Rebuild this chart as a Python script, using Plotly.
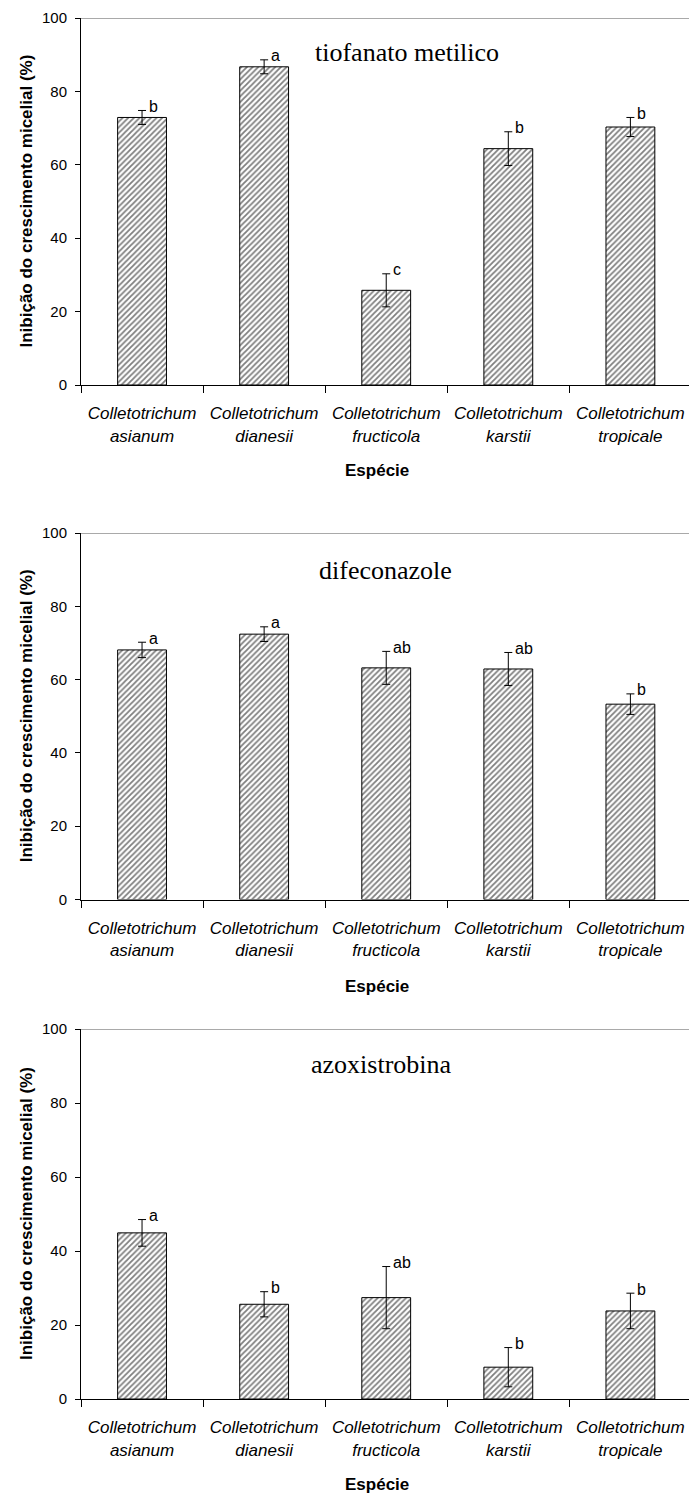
import plotly.graph_objects as go

W, H = 689, 1495

genus = "Colletotrichum"
species = ["asianum", "dianesii", "fructicola", "karstii", "tropicale"]
fungicides = ["tiofanato metilico", "difeconazole", "azoxistrobina"]

tiof_mean = [72.9, 86.7, 25.8, 64.4, 70.3]
tiof_err = [1.9, 1.9, 4.5, 4.6, 2.6]
tiof_letters = ["b", "a", "c", "b", "b"]

difen_mean = [68.1, 72.4, 63.2, 62.9, 53.3]
difen_err = [2.1, 2.0, 4.5, 4.5, 2.8]
difen_letters = ["a", "a", "ab", "ab", "b"]

azox_mean = [44.9, 25.6, 27.4, 8.6, 23.8]
azox_err = [3.6, 3.4, 8.4, 5.3, 4.8]
azox_letters = ["a", "b", "ab", "b", "b"]

yticks = [0, 20, 40, 60, 80, 100]
y_title = "Inibição do crescimento micelial (%)"
x_title = "Espécie"

panels = [
    (fungicides[0], tiof_mean, tiof_err, tiof_letters),
    (fungicides[1], difen_mean, difen_err, difen_letters),
    (fungicides[2], azox_mean, azox_err, azox_letters),
]

# layout geometry in pixels (top, bottom of plot area), title position, x-title y
geom = [
    dict(top=18, bottom=385, tx=407, ty=52, ey=471),
    dict(top=533, bottom=899.5, tx=385, ty=570, ey=986),
    dict(top=1029, bottom=1399, tx=381, ty=1064, ey=1484),
]
left_px = 81


def px(x):
    return x / W


def py(y):
    return 1 - y / H


SANS = "Liberation Sans, Arial, sans-serif"
SERIF = "Liberation Serif, Times New Roman, serif"

fig = go.Figure()
annotations = []
shapes = []

for i, ((name, mean, err, letters), g) in enumerate(zip(panels, geom)):
    n = "" if i == 0 else str(i + 1)
    xa = "x" + n
    ya = "y" + n
    fig.add_trace(go.Bar(
        x=species, y=mean,
        xaxis=xa, yaxis=ya,
        width=0.4,
        marker=dict(
            color="white",
            line=dict(color="black", width=1),
            pattern=dict(shape="/", fgcolor="black", bgcolor="white",
                         size=4, solidity=0.45),
        ),
        error_y=dict(type="data", array=err, visible=True,
                     color="black", thickness=1, width=4),
        showlegend=False,
        hoverinfo="skip",
    ))
    xaxis = dict(
        domain=[px(left_px), 1],
        anchor=ya,
        automargin=False,
        type="category",
        range=[-0.5, 4.48],
        tickmode="array",
        tickvals=species,
        ticktext=[f"<i>{genus}</i><br><i>{s}</i>" for s in species],
        tickson="boundaries",
        ticks="outside", ticklen=7, tickcolor="black", tickwidth=1,
        ticklabelstandoff=13,
        showline=True, linecolor="black", linewidth=1,
        showgrid=False, zeroline=False,
        tickfont=dict(family=SANS, size=17, color="black"),
    )
    yaxis = dict(
        domain=[py(g["bottom"]), py(g["top"])],
        anchor=xa,
        automargin=False,
        range=[0, 100],
        tickmode="array", tickvals=yticks,
        ticks="outside", ticklen=5, tickcolor="black", tickwidth=1,
        ticklabelstandoff=5,
        showline=True, linecolor="black", linewidth=1,
        showgrid=False, zeroline=False,
        tickfont=dict(family=SANS, size=15, color="black"),
    )
    fig.update_layout(**{("xaxis" + n): xaxis, ("yaxis" + n): yaxis})

    # gray top border of plot area
    shapes.append(dict(type="line", xref=xa + " domain", yref=ya,
                       x0=0, x1=1, y0=100, y1=100,
                       line=dict(color="#8c8c8c", width=1.5)))

    # significance letters
    for s, m, e, l in zip(species, mean, err, letters):
        annotations.append(dict(
            x=s, y=m + e, xref=xa, yref=ya, text=l, showarrow=False,
            xanchor="left", yanchor="middle", xshift=5, yshift=4,
            font=dict(family=SANS, size=16, color="black"),
        ))

    # panel title
    annotations.append(dict(
        x=px(g["tx"]), y=py(g["ty"]), xref="paper", yref="paper",
        text=name, showarrow=False, xanchor="center", yanchor="middle",
        font=dict(family=SERIF, size=26, color="black"),
    ))
    # y-axis title
    annotations.append(dict(
        x=px(26), y=py((g["top"] + g["bottom"]) / 2), xref="paper", yref="paper",
        text=f"<b>{y_title}</b>", showarrow=False, textangle=-90,
        xanchor="center", yanchor="middle",
        font=dict(family=SANS, size=17, color="black"),
    ))
    # x-axis title
    annotations.append(dict(
        x=px(377), y=py(g["ey"]), xref="paper", yref="paper",
        text=f"<b>{x_title}</b>", showarrow=False,
        xanchor="center", yanchor="middle",
        font=dict(family=SANS, size=17, color="black"),
    ))

fig.update_layout(
    width=W, height=H,
    margin=dict(l=0, r=0, t=0, b=0, autoexpand=False),
    paper_bgcolor="white", plot_bgcolor="white",
    annotations=annotations, shapes=shapes,
    bargap=0.6,
    hovermode=False,
)

fig.write_html(
    "out.html",
    config={"displayModeBar": False, "staticPlot": True},
    post_script="document.body.style.margin='0';document.body.style.overflow='hidden';",
)
